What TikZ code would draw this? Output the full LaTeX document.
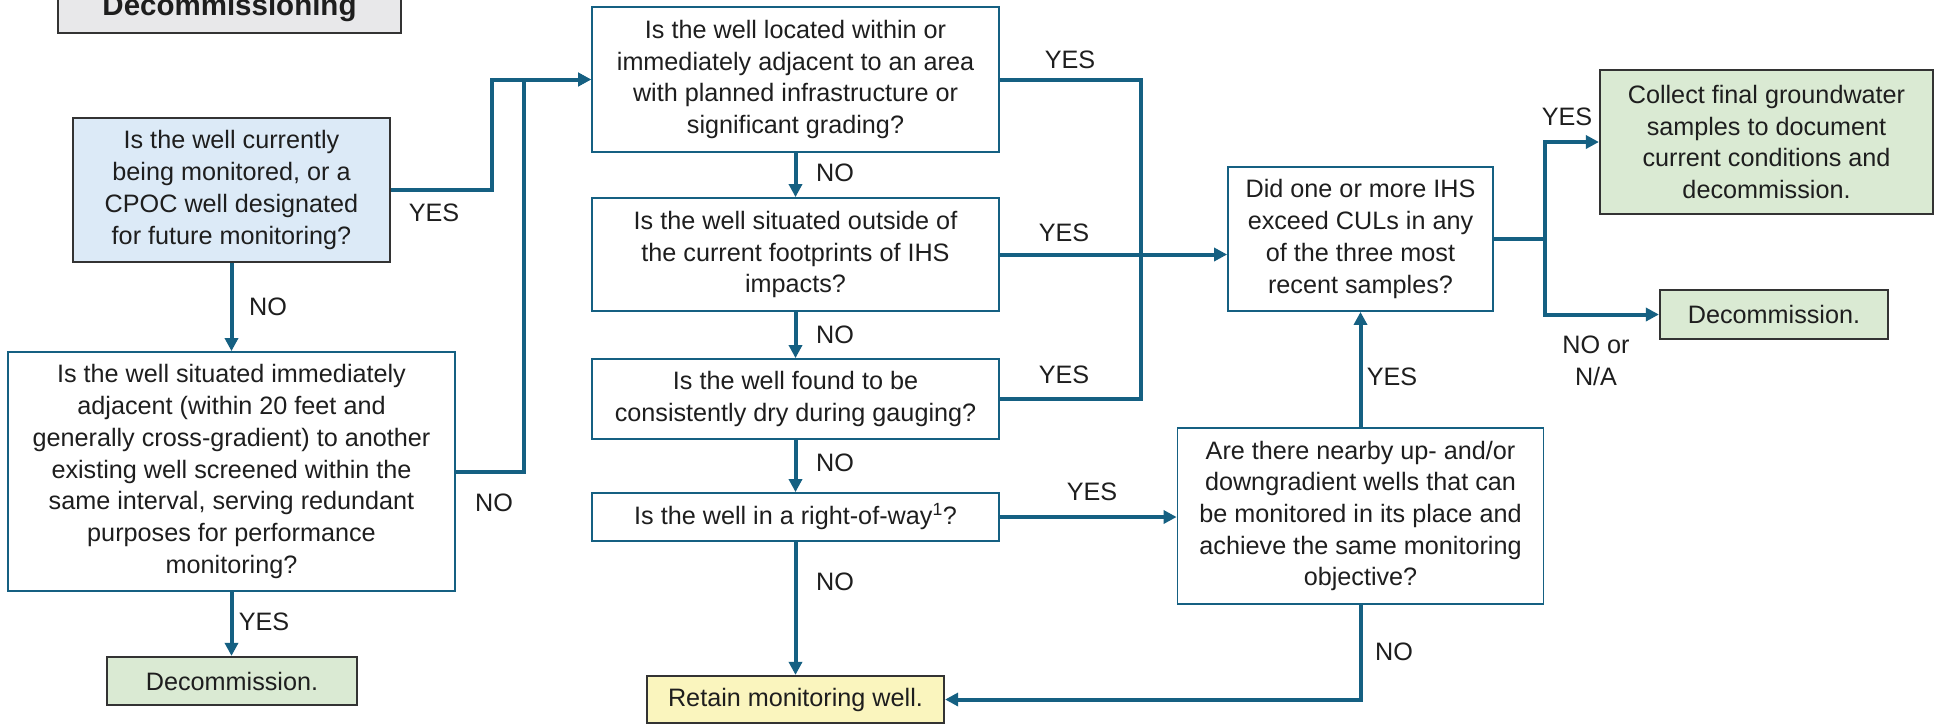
\documentclass[tikz,border=0pt]{standalone}
\usepackage{fontspec}
\setmainfont{Liberation Sans}
\usetikzlibrary{arrows.meta}
\definecolor{linkblue}{HTML}{156082}
\definecolor{bluefill}{HTML}{DCEAF7}
\definecolor{greenfill}{HTML}{DAEAD3}
\definecolor{yellowfill}{HTML}{FAF5BE}
\definecolor{grayfill}{HTML}{E8E8EA}
\definecolor{darkline}{HTML}{333333}
\definecolor{txt}{HTML}{1E1E1E}
\begin{document}
\begin{tikzpicture}[x=1pt,y=-1pt,
  every node/.style={font=\fontsize{25.2}{31.7}\selectfont, text=txt, inner sep=0pt},
  qbox/.style={draw=linkblue, line width=1.8pt, fill=white, align=center},
  dbox/.style={draw=darkline, line width=2.2pt, align=center},
  link/.style={draw=linkblue, line width=4pt, line join=miter},
  arr/.style={link, -{Triangle[length=13pt,width=13pt]}},
  lbl/.style={align=center}
]
\useasboundingbox (0,0) rectangle (1940,724);
\begin{scope}
\clip (0,0) rectangle (1940,724);
\fill[white] (0,0) rectangle (1940,724);
% title
\node[draw=darkline, line width=2.7pt, fill=grayfill, minimum width=343, minimum height=70] (titlebox) at (229.5,-2) {};
\node[anchor=base, font=\fontsize{29.5}{34}\selectfont\bfseries] (title) at (229.5,15) {Decommissioning};

% left column
\node[dbox, fill=bluefill, minimum width=317, minimum height=144] (q0) at (231.5,190)
  {Is the well currently\\being monitored, or a\\CPOC well designated\\for future monitoring?};
\node[qbox, minimum width=447, minimum height=239] (q2) at (231.5,471.5)
  {Is the well situated immediately\\adjacent (within 20 feet and\\generally cross-gradient) to another\\existing well screened within the\\same interval, serving redundant\\purposes for performance\\monitoring?};
\node[dbox, fill=greenfill, minimum width=250, minimum height=48] (dec1) at (232,681) {Decommission.};

% middle column
\node[qbox, minimum width=407, minimum height=145] (a) at (795.5,79.5)
  {Is the well located within or\\immediately adjacent to an area\\with planned infrastructure or\\significant grading?};
\node[qbox, minimum width=407, minimum height=113] (b) at (795.5,254.5)
  {Is the well situated outside of\\the current footprints of IHS\\impacts?};
\node[qbox, minimum width=407, minimum height=80] (c) at (795.5,399)
  {Is the well found to be\\consistently dry during gauging?};
\node[qbox, minimum width=407, minimum height=48] (d) at (795.5,517)
  {Is the well in a right-of-way\textsuperscript{1}?};
\node[dbox, fill=yellowfill, minimum width=297, minimum height=47] (retain) at (795.5,699.5) {Retain monitoring well.};

% right part
\node[qbox, minimum width=265, minimum height=144] (ihs) at (1360.5,239)
  {Did one or more IHS\\exceed CULs in any\\of the three most\\recent samples?};
\node[qbox, minimum width=366, minimum height=176] (e) at (1360.5,516)
  {Are there nearby up- and/or\\downgradient wells that can\\be monitored in its place and\\achieve the same monitoring\\objective?};
\node[dbox, fill=greenfill, minimum width=333, minimum height=144] (collect) at (1766.5,142)
  {Collect final groundwater\\samples to document\\current conditions and\\decommission.};
\node[dbox, fill=greenfill, minimum width=228, minimum height=49] (dec2) at (1774,314.5) {Decommission.};

% junction coordinates
\coordinate (jA) at (524,79.5);
\coordinate (jR) at (1141,399);
\coordinate (jS) at (1545,239);

% connectors
\draw[arr] (q0.east) -- ++(101,0) |- (a.west);
\draw[arr] (q2.east) -| (jA) -- (a.west);
\draw[arr] (q0.south) -- (q2.north);
\draw[arr] (q2.south) -- (q2.south |- dec1.north);
\draw[arr] (a.south) -- (b.north);
\draw[arr] (b.south) -- (c.north);
\draw[arr] (c.south) -- (d.north);
\draw[arr] (d.south) -- (retain.north);
\draw[link] (a.east) -| (jR) -- (c.east);
\draw[arr] (b.east) -- (b.east -| ihs.west);
\draw[arr] (d.east) -- (d.east -| e.west);
\draw[arr] (e.north) -- (ihs.south);
\draw[arr] (e.south) |- (retain.east);
\draw[link] (ihs.east) -- (jS);
\draw[arr] (jS) |- (collect.west);
\draw[arr] (jS) |- (dec2.west);

% labels
\node[lbl] (l1) at (434,213) {YES};
\node[lbl] (l2) at (268,307) {NO};
\node[lbl] (l3) at (494,503) {NO};
\node[lbl] (l4) at (264,622) {YES};
\node[lbl] (l5) at (1070,60) {YES};
\node[lbl] (l6) at (835,173) {NO};
\node[lbl] (l7) at (1064,233) {YES};
\node[lbl] (l8) at (835,335) {NO};
\node[lbl] (l9) at (1064,375) {YES};
\node[lbl] (l10) at (835,463) {NO};
\node[lbl] (l11) at (1092,492) {YES};
\node[lbl] (l12) at (835,582) {NO};
\node[lbl] (l13) at (1392,377) {YES};
\node[lbl] (l14) at (1394,652) {NO};
\node[lbl] (l15) at (1567,117) {YES};
\node[lbl] (l16) at (1596,361) {NO or\\N/A};
\end{scope}
\end{tikzpicture}
\end{document}
